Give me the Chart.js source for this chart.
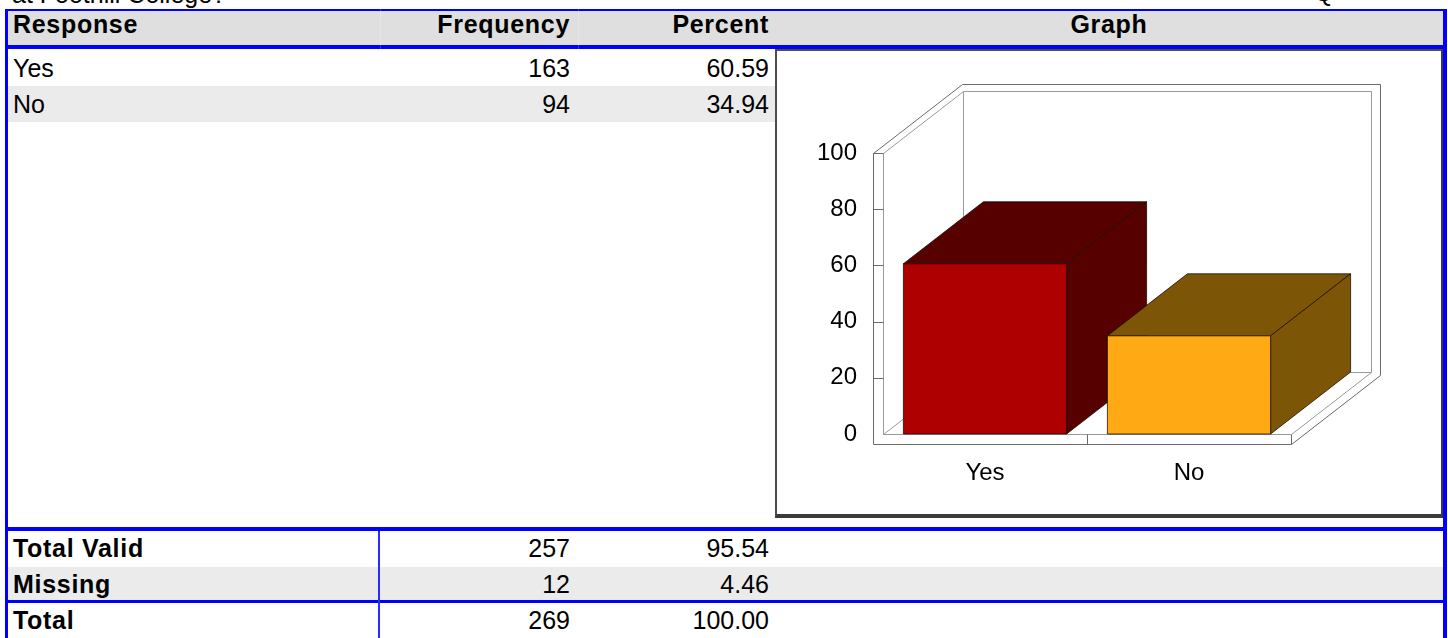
<!DOCTYPE html>
<html><head><meta charset="utf-8">
<script src="https://cdn.jsdelivr.net/npm/chart.js@4.4.1/dist/chart.umd.min.js"></script>
<style>
html,body{margin:0;padding:0;background:#fff;width:1448px;height:638px;overflow:hidden;position:relative;font-family:"Liberation Sans",Arial,sans-serif;}
.r{position:absolute;}
.t{position:absolute;font-size:25px;line-height:25px;white-space:nowrap;color:#000;}
.b{font-weight:bold;letter-spacing:0.7px;}
#panel{position:absolute;left:775px;top:49px;width:664px;height:463px;background:#fff;border-top:2px solid #4d4d4d;border-left:2px solid #4d4d4d;border-right:2px solid #3a3a3a;border-bottom:4px solid #3a3a3a;}
#chart{position:absolute;left:777px;top:51px;}
</style></head><body>
<div id="panel"></div>
<canvas id="chart" width="664" height="463"></canvas>
<script>
// ---- data ----
const headers = ["Response", "Frequency", "Percent", "Graph"];
const responses = ["Yes", "No"];
const frequencies = [163, 94];
const percents = ["60.59", "34.94"];
const summaryLabels = ["Total Valid", "Missing", "Total"];
const summaryFrequencies = [257, 12, 269];
const summaryPercents = ["95.54", "4.46", "100.00"];
const yTicks = [0, 20, 40, 60, 80, 100];
const titleText = "at Foothill College?";

// ---- styles ----
const BLUE = "#0000ff";
const ROWGRAY = "#ebebeb";
const HEADGRAY = "#dfdfdf";
const frontColors = ["#ae0000", "#ffaa14"];
const darkColors = ["#560000", "#7d5506"];

function rect(x, y, w, h, c) {
  const d = document.createElement("div");
  d.className = "r";
  d.style.cssText = `left:${x}px;top:${y}px;width:${w}px;height:${h}px;background:${c};`;
  document.body.appendChild(d);
  return d;
}
function text(s, x, baseline, align, bold) {
  const d = document.createElement("div");
  d.className = "t" + (bold ? " b" : "");
  d.textContent = s;
  const top = baseline - 21.2;
  if (align === "left") d.style.cssText = `left:${x}px;top:${top}px;`;
  else if (align === "right") d.style.cssText = `right:${1448 - x}px;top:${top}px;`;
  else d.style.cssText = `left:${x - 300}px;width:600px;text-align:center;top:${top}px;`;
  document.body.appendChild(d);
}

// title fragments (cut off at top)
text(titleText, 12, 3.5, "left", false);
text("Q", 1314, 1, "left", false);

// header
rect(5, 9, 1442, 2, BLUE);
rect(8, 11, 1435, 34, HEADGRAY);
rect(8, 45, 1435, 4, BLUE);
rect(380, 9, 1, 40, "rgba(255,255,255,0.2)");
rect(578, 9, 1, 40, "rgba(255,255,255,0.2)");
text(headers[0], 13, 33.5, "left", true);
text(headers[1], 570, 33.5, "right", true);
text(headers[2], 769, 33.5, "right", true);
text(headers[3], 1109, 33.5, "center", true);

// data rows
responses.forEach((r, i) => {
  const top = 49 + i * 36.5;
  if (i % 2 === 1) rect(8, top, 767, 36, ROWGRAY);
  const bl = 77 + i * 36;
  text(r, 13, bl, "left", false);
  text(String(frequencies[i]), 570, bl, "right", false);
  text(percents[i], 769, bl, "right", false);
});

// summary section
rect(8, 527, 1435, 4, BLUE);
rect(8, 567, 1435, 33, ROWGRAY);
rect(8, 600, 1435, 3, BLUE);
rect(378, 531, 2, 107, "#2a2aff");
summaryLabels.forEach((s, i) => {
  const bl = 557 + i * 36;
  text(s, 13, bl, "left", true);
  text(String(summaryFrequencies[i]), 570, bl, "right", false);
  text(summaryPercents[i], 769, bl, "right", false);
});

// side borders
rect(5, 9, 3, 629, BLUE);
rect(1443, 9, 4, 629, BLUE);

// ---- 3D bar chart ----
const DX = 80, DY = -62;      // depth offset of the 3D box
const WT = 10;                // wall thickness
const EX = 9, EY = -7;        // back wall thickness offset

const bars3d = {
  id: "bars3d",
  beforeDatasetsDraw(chart) {
    const ctx = chart.ctx;
    const a = chart.chartArea;
    const ys = chart.scales.y;
    const L = a.left, R = a.right, T = a.top, B = a.bottom;
    const seg = (pts, col) => {
      ctx.beginPath();
      ctx.moveTo(Math.round(pts[0][0]) + 0.5, Math.round(pts[0][1]) + 0.5);
      for (let k = 1; k < pts.length; k++) ctx.lineTo(Math.round(pts[k][0]) + 0.5, Math.round(pts[k][1]) + 0.5);
      ctx.strokeStyle = col;
      ctx.stroke();
    };
    ctx.save();
    ctx.lineWidth = 1;
    const OUT = "#6a6a6a", IN = "#9a9a9a";
    // back wall outer
    seg([[L - WT + DX + EX, T + DY + EY], [R + DX + EX, T + DY + EY], [R + DX + EX, B + WT + DY + EY]], OUT);
    // back wall inner
    seg([[L + DX, T + DY], [R + DX, T + DY], [R + DX, B + DY], [L + DX, B + DY], [L + DX, T + DY]], IN);
    // left wall
    seg([[L - WT, T], [L - WT, B + WT]], OUT);
    seg([[L, T], [L, B]], IN);
    seg([[L - WT, T], [L, T]], OUT);
    seg([[L - WT, T], [L - WT + DX + EX, T + DY + EY]], OUT);
    seg([[L, T], [L + DX, T + DY]], IN);
    // y tick marks on the left wall
    yTicks.forEach(v => {
      if (v === 0) return;
      const py = ys.getPixelForValue(v);
      seg([[L - WT, py], [L, py]], OUT);
    });
    // floor
    seg([[L - WT, B + WT], [R, B + WT], [R, B]], OUT);
    seg([[L, B], [R, B]], IN);
    seg([[R, B + WT], [R + DX + EX, B + WT + DY + EY]], OUT);
    seg([[R, B], [R + DX, B + DY]], IN);
    seg([[L, B], [L + DX, B + DY]], IN);
    // category divider on floor front
    const xs = chart.scales.x;
    const mid = (xs.getPixelForValue(0) + xs.getPixelForValue(1)) / 2;
    seg([[mid, B], [mid, B + WT]], OUT);

    // bars
    const meta = chart.getDatasetMeta(0);
    meta.data.forEach((bar, i) => {
      const p = bar.getProps(["x", "y", "base", "width"], true);
      const l = p.x - p.width / 2, r = p.x + p.width / 2, y = p.y, b = p.base;
      const poly = (pts, fill) => {
        ctx.beginPath();
        ctx.moveTo(pts[0][0], pts[0][1]);
        for (let k = 1; k < pts.length; k++) ctx.lineTo(pts[k][0], pts[k][1]);
        ctx.closePath();
        ctx.fillStyle = fill;
        ctx.fill();
        ctx.strokeStyle = "rgba(20,10,0,0.75)";
        ctx.stroke();
      };
      poly([[l, y], [r, y], [r + DX, y + DY], [l + DX, y + DY]], darkColors[i]);
      poly([[r, y], [r + DX, y + DY], [r + DX, b + DY], [r, b]], darkColors[i]);
      poly([[l, y], [r, y], [r, b], [l, b]], frontColors[i]);
    });
    ctx.restore();
    return false;
  }
};

const FONT = "'Liberation Sans', Arial, sans-serif";
new Chart(document.getElementById("chart"), {
  type: "bar",
  data: {
    labels: responses,
    datasets: [{
      data: percents.map(Number),
      backgroundColor: frontColors,
      categoryPercentage: 1.0,
      barPercentage: 0.8
    }]
  },
  options: {
    responsive: false,
    animation: false,
    devicePixelRatio: 1,
    layout: { padding: { top: 102, right: 150, left: 0, bottom: 0 } },
    plugins: { legend: { display: false }, tooltip: { enabled: false } },
    scales: {
      x: {
        grid: { display: false, drawTicks: false },
        border: { display: false },
        ticks: { font: { family: FONT, size: 24 }, color: "#000", padding: 25 },
        afterFit(s) { s.height = 80; }
      },
      y: {
        min: 0, max: 100,
        afterBuildTicks(s) { s.ticks = yTicks.map(v => ({ value: v })); },
        grid: { display: false, drawTicks: false },
        border: { display: false },
        ticks: { font: { family: FONT, size: 24 }, color: "#000", padding: 26 },
        afterFit(s) { s.width = 106; }
      }
    }
  },
  plugins: [bars3d]
});
</script>
</body></html>
